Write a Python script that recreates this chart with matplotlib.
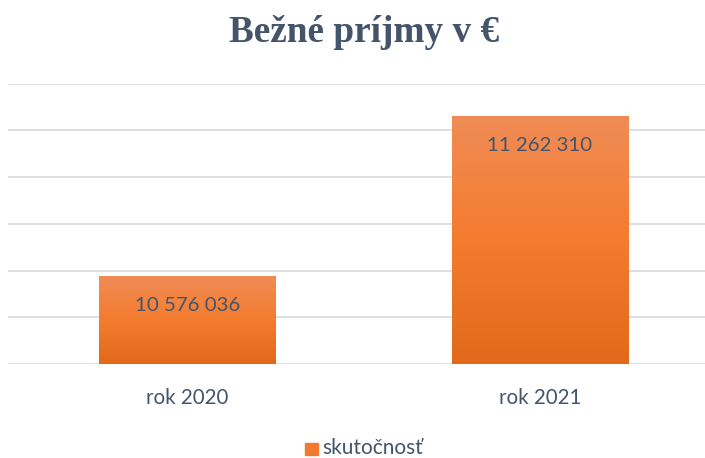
import matplotlib
matplotlib.use("Agg")
import matplotlib.pyplot as plt
import numpy as np
from matplotlib.colors import LinearSegmentedColormap
from matplotlib.patches import Rectangle

title = "Bežné príjmy v €"
categories = ["rok 2020", "rok 2021"]
values = [10576036, 11262310]
value_labels = ["10 576 036", "11 262 310"]
series_name = "skutočnosť"
y_min, y_max, y_step = 10200000, 11400000, 200000

text_color = "#44546A"
grid_color = "#D9DDE3"

fig = plt.figure(figsize=(7.05, 4.58), dpi=100)
W, H = 705, 458
ax = fig.add_axes([8 / W, (H - 364) / H, (705 - 8) / W, (364 - 83.5) / H])

ax.set_xlim(-0.509, 1.468)
ax.set_ylim(y_min, y_max)
ax.set_yticks(np.arange(y_min, y_max + 1, y_step))
ax.yaxis.grid(True, color=grid_color, linewidth=1.3)
ax.set_axisbelow(True)
for s in ax.spines.values():
    s.set_visible(False)
ax.tick_params(axis="y", left=False, labelleft=False)
ax.tick_params(axis="x", bottom=False, pad=13.5)
ax.set_xticks(range(len(categories)))
ax.set_xticklabels(categories, fontsize=14.8, color=text_color, family="Lato")

cmap = LinearSegmentedColormap.from_list(
    "og", [(0.0, "#E3691A"), (0.5, "#F47C2E"), (1.0, "#F08C56")])
grad = np.linspace(0, 1, 256).reshape(-1, 1)
bw = 0.502
bars = ax.bar(range(len(values)), values, width=bw, bottom=0, color="#F47C2E",
              zorder=2)
for i, (b, v) in enumerate(zip(bars, values)):
    b.set_facecolor("none")
    x0 = i - bw / 2
    im = ax.imshow(grad, cmap=cmap, origin="lower", aspect="auto",
                   extent=[x0, x0 + bw, y_min, v], zorder=2)
    clip = Rectangle((x0, y_min), bw, v - y_min, transform=ax.transData)
    im.set_clip_path(clip)
    ax.annotate(value_labels[i], xy=(i, v), xytext=(0, -21.5),
                textcoords="offset points", ha="center", va="center",
                fontsize=14.7, color=text_color, family="Lato", zorder=3)
ax.set_xlim(-0.509, 1.468)
ax.set_ylim(y_min, y_max)

fig.text(364 / W, 1 - 32 / H, title, ha="center", va="center",
         fontsize=26.8, fontweight="bold", family="Liberation Serif",
         color=text_color)

# legend
fig.patches.append(Rectangle((305 / W, 1 - 455 / H), 13 / W, 12.5 / H,
                             transform=fig.transFigure, color="#F07A30"))
fig.text(322 / W, 1 - 448 / H, series_name, ha="left", va="center",
         fontsize=15, color=text_color, family="Lato")

fig.savefig("out.png", dpi=100)
